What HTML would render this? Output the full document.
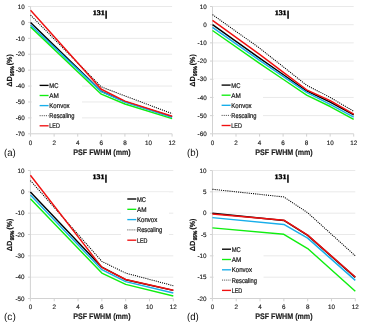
<!DOCTYPE html>
<html><head><meta charset="utf-8"><style>
html,body{margin:0;padding:0;background:#fff;}
body{width:367px;height:328px;overflow:hidden;}
svg{display:block;will-change:transform;text-rendering:geometricPrecision;}
</style></head><body>
<svg width="367" height="328" viewBox="0 0 367 328" font-family='"Liberation Sans", sans-serif'>
<rect width="367" height="328" fill="#fff"/>
<line x1="30.55" y1="6.50" x2="172.10" y2="6.50" stroke="#e9e9e9" stroke-width="1"/>
<line x1="28.05" y1="6.50" x2="30.55" y2="6.50" stroke="#d2d2d2" stroke-width="1"/>
<text x="24.75" y="8.70" font-size="6.3" text-anchor="end" fill="#222" stroke="#222" stroke-width="0.15">10</text>
<line x1="30.55" y1="22.41" x2="172.10" y2="22.41" stroke="#e9e9e9" stroke-width="1"/>
<line x1="28.05" y1="22.41" x2="30.55" y2="22.41" stroke="#d2d2d2" stroke-width="1"/>
<text x="24.75" y="24.61" font-size="6.3" text-anchor="end" fill="#222" stroke="#222" stroke-width="0.15">0</text>
<line x1="30.55" y1="38.33" x2="172.10" y2="38.33" stroke="#e9e9e9" stroke-width="1"/>
<line x1="28.05" y1="38.33" x2="30.55" y2="38.33" stroke="#d2d2d2" stroke-width="1"/>
<text x="24.75" y="40.53" font-size="6.3" text-anchor="end" fill="#222" stroke="#222" stroke-width="0.15">-10</text>
<line x1="30.55" y1="54.24" x2="172.10" y2="54.24" stroke="#e9e9e9" stroke-width="1"/>
<line x1="28.05" y1="54.24" x2="30.55" y2="54.24" stroke="#d2d2d2" stroke-width="1"/>
<text x="24.75" y="56.44" font-size="6.3" text-anchor="end" fill="#222" stroke="#222" stroke-width="0.15">-20</text>
<line x1="30.55" y1="70.15" x2="172.10" y2="70.15" stroke="#e9e9e9" stroke-width="1"/>
<line x1="28.05" y1="70.15" x2="30.55" y2="70.15" stroke="#d2d2d2" stroke-width="1"/>
<text x="24.75" y="72.35" font-size="6.3" text-anchor="end" fill="#222" stroke="#222" stroke-width="0.15">-30</text>
<line x1="30.55" y1="86.06" x2="172.10" y2="86.06" stroke="#e9e9e9" stroke-width="1"/>
<line x1="28.05" y1="86.06" x2="30.55" y2="86.06" stroke="#d2d2d2" stroke-width="1"/>
<text x="24.75" y="88.26" font-size="6.3" text-anchor="end" fill="#222" stroke="#222" stroke-width="0.15">-40</text>
<line x1="30.55" y1="101.98" x2="172.10" y2="101.98" stroke="#e9e9e9" stroke-width="1"/>
<line x1="28.05" y1="101.98" x2="30.55" y2="101.98" stroke="#d2d2d2" stroke-width="1"/>
<text x="24.75" y="104.18" font-size="6.3" text-anchor="end" fill="#222" stroke="#222" stroke-width="0.15">-50</text>
<line x1="30.55" y1="117.89" x2="172.10" y2="117.89" stroke="#e9e9e9" stroke-width="1"/>
<line x1="28.05" y1="117.89" x2="30.55" y2="117.89" stroke="#d2d2d2" stroke-width="1"/>
<text x="24.75" y="120.09" font-size="6.3" text-anchor="end" fill="#222" stroke="#222" stroke-width="0.15">-60</text>
<line x1="28.05" y1="133.80" x2="30.55" y2="133.80" stroke="#d2d2d2" stroke-width="1"/>
<text x="24.75" y="136.00" font-size="6.3" text-anchor="end" fill="#222" stroke="#222" stroke-width="0.15">-70</text>
<line x1="30.55" y1="6.50" x2="30.55" y2="133.80" stroke="#d2d2d2" stroke-width="1"/>
<line x1="30.55" y1="133.80" x2="172.10" y2="133.80" stroke="#d2d2d2" stroke-width="1"/>
<line x1="30.55" y1="133.80" x2="30.55" y2="136.60" stroke="#d2d2d2" stroke-width="1"/>
<text x="30.55" y="145.10" font-size="6.3" text-anchor="middle" fill="#222" stroke="#222" stroke-width="0.15">0</text>
<line x1="54.14" y1="133.80" x2="54.14" y2="136.60" stroke="#d2d2d2" stroke-width="1"/>
<text x="54.14" y="145.10" font-size="6.3" text-anchor="middle" fill="#222" stroke="#222" stroke-width="0.15">2</text>
<line x1="77.73" y1="133.80" x2="77.73" y2="136.60" stroke="#d2d2d2" stroke-width="1"/>
<text x="77.73" y="145.10" font-size="6.3" text-anchor="middle" fill="#222" stroke="#222" stroke-width="0.15">4</text>
<line x1="101.32" y1="133.80" x2="101.32" y2="136.60" stroke="#d2d2d2" stroke-width="1"/>
<text x="101.32" y="145.10" font-size="6.3" text-anchor="middle" fill="#222" stroke="#222" stroke-width="0.15">6</text>
<line x1="124.92" y1="133.80" x2="124.92" y2="136.60" stroke="#d2d2d2" stroke-width="1"/>
<text x="124.92" y="145.10" font-size="6.3" text-anchor="middle" fill="#222" stroke="#222" stroke-width="0.15">8</text>
<line x1="148.51" y1="133.80" x2="148.51" y2="136.60" stroke="#d2d2d2" stroke-width="1"/>
<text x="148.51" y="145.10" font-size="6.3" text-anchor="middle" fill="#222" stroke="#222" stroke-width="0.15">10</text>
<line x1="172.10" y1="133.80" x2="172.10" y2="136.60" stroke="#d2d2d2" stroke-width="1"/>
<text x="172.10" y="145.10" font-size="6.3" text-anchor="middle" fill="#222" stroke="#222" stroke-width="0.15">12</text>
<rect x="32" y="79" width="50" height="52" fill="#fff"/>
<polyline points="30.55,22.41 101.32,91.31 124.92,101.66 172.10,116.77" fill="none" stroke="#000000" stroke-width="1.45" stroke-linejoin="round"/>
<polyline points="30.55,26.87 101.32,94.18 124.92,104.04 172.10,118.68" fill="none" stroke="#10ee10" stroke-width="1.45" stroke-linejoin="round"/>
<polyline points="30.55,24.96 101.32,91.63 124.92,101.98 172.10,117.25" fill="none" stroke="#18aeea" stroke-width="1.45" stroke-linejoin="round"/>
<polyline points="30.55,15.09 101.32,86.86 124.92,95.93 172.10,113.59" fill="none" stroke="#000" stroke-width="1.05" stroke-dasharray="1.1 1.05"/>
<polyline points="30.55,10.32 101.32,89.25 124.92,101.18 172.10,116.30" fill="none" stroke="#f01010" stroke-width="1.45" stroke-linejoin="round"/>
<line x1="39.60" y1="85.40" x2="48.60" y2="85.40" stroke="#000000" stroke-width="1.35"/>
<text x="49.30" y="87.90" font-size="6.9" fill="#111" stroke="#111" stroke-width="0.2" textLength="9.1" lengthAdjust="spacingAndGlyphs">MC</text>
<line x1="39.60" y1="95.50" x2="48.60" y2="95.50" stroke="#10ee10" stroke-width="1.35"/>
<text x="49.30" y="98.00" font-size="6.9" fill="#111" stroke="#111" stroke-width="0.2" textLength="9.6" lengthAdjust="spacingAndGlyphs">AM</text>
<line x1="39.60" y1="105.60" x2="48.60" y2="105.60" stroke="#18aeea" stroke-width="1.35"/>
<text x="49.30" y="108.10" font-size="6.9" fill="#111" stroke="#111" stroke-width="0.2" textLength="20.3" lengthAdjust="spacingAndGlyphs">Konvox</text>
<line x1="39.60" y1="115.70" x2="48.60" y2="115.70" stroke="#505050" stroke-width="1" stroke-dasharray="1.1 1"/>
<text x="49.30" y="118.20" font-size="6.9" fill="#111" stroke="#111" stroke-width="0.2" textLength="25.2" lengthAdjust="spacingAndGlyphs">Rescaling</text>
<line x1="39.60" y1="125.80" x2="48.60" y2="125.80" stroke="#f01010" stroke-width="1.35"/>
<text x="49.30" y="128.30" font-size="6.9" fill="#111" stroke="#111" stroke-width="0.2" textLength="10.5" lengthAdjust="spacingAndGlyphs">LED</text>
<text x="92.75" y="15.25" font-family="Liberation Serif" font-weight="bold" font-size="7.0" stroke="#000" stroke-width="0.4" textLength="11.9" lengthAdjust="spacingAndGlyphs">131</text>
<rect x="105.35" y="10.60" width="1.5" height="8.2" fill="#000"/>
<text x="102.05" y="155.40" font-size="8.1" font-weight="bold" text-anchor="middle" textLength="57.4" lengthAdjust="spacingAndGlyphs" fill="#1a1a1a" stroke="#1a1a1a" stroke-width="0.15">PSF FWHM (mm)</text>
<g transform="translate(11.70,0) rotate(-90)"><text x="-86.85" y="0.2" font-size="7.4" font-weight="bold" fill="#111" stroke="#111" stroke-width="0.15">&#916;D</text><text x="-75.95" y="1.9" font-size="5.4" font-weight="bold" fill="#111" stroke="#111" stroke-width="0.3" textLength="9.6" lengthAdjust="spacingAndGlyphs">95%</text><text x="-65.25" y="0.15" font-size="7.4" font-weight="bold" fill="#111" stroke="#111" stroke-width="0.15" textLength="11.0" lengthAdjust="spacingAndGlyphs">(%)</text></g>
<text x="4.00" y="155.60" font-size="10.2" textLength="11.8" lengthAdjust="spacingAndGlyphs" fill="#111">(a)</text>
<line x1="212.50" y1="6.50" x2="353.70" y2="6.50" stroke="#e9e9e9" stroke-width="1"/>
<line x1="210.00" y1="6.50" x2="212.50" y2="6.50" stroke="#d2d2d2" stroke-width="1"/>
<text x="206.70" y="8.70" font-size="6.3" text-anchor="end" fill="#222" stroke="#222" stroke-width="0.15">10</text>
<line x1="212.50" y1="24.69" x2="353.70" y2="24.69" stroke="#e9e9e9" stroke-width="1"/>
<line x1="210.00" y1="24.69" x2="212.50" y2="24.69" stroke="#d2d2d2" stroke-width="1"/>
<text x="206.70" y="26.89" font-size="6.3" text-anchor="end" fill="#222" stroke="#222" stroke-width="0.15">0</text>
<line x1="212.50" y1="42.87" x2="353.70" y2="42.87" stroke="#e9e9e9" stroke-width="1"/>
<line x1="210.00" y1="42.87" x2="212.50" y2="42.87" stroke="#d2d2d2" stroke-width="1"/>
<text x="206.70" y="45.07" font-size="6.3" text-anchor="end" fill="#222" stroke="#222" stroke-width="0.15">-10</text>
<line x1="212.50" y1="61.06" x2="353.70" y2="61.06" stroke="#e9e9e9" stroke-width="1"/>
<line x1="210.00" y1="61.06" x2="212.50" y2="61.06" stroke="#d2d2d2" stroke-width="1"/>
<text x="206.70" y="63.26" font-size="6.3" text-anchor="end" fill="#222" stroke="#222" stroke-width="0.15">-20</text>
<line x1="212.50" y1="79.24" x2="353.70" y2="79.24" stroke="#e9e9e9" stroke-width="1"/>
<line x1="210.00" y1="79.24" x2="212.50" y2="79.24" stroke="#d2d2d2" stroke-width="1"/>
<text x="206.70" y="81.44" font-size="6.3" text-anchor="end" fill="#222" stroke="#222" stroke-width="0.15">-30</text>
<line x1="212.50" y1="97.43" x2="353.70" y2="97.43" stroke="#e9e9e9" stroke-width="1"/>
<line x1="210.00" y1="97.43" x2="212.50" y2="97.43" stroke="#d2d2d2" stroke-width="1"/>
<text x="206.70" y="99.63" font-size="6.3" text-anchor="end" fill="#222" stroke="#222" stroke-width="0.15">-40</text>
<line x1="212.50" y1="115.61" x2="353.70" y2="115.61" stroke="#e9e9e9" stroke-width="1"/>
<line x1="210.00" y1="115.61" x2="212.50" y2="115.61" stroke="#d2d2d2" stroke-width="1"/>
<text x="206.70" y="117.81" font-size="6.3" text-anchor="end" fill="#222" stroke="#222" stroke-width="0.15">-50</text>
<line x1="210.00" y1="133.80" x2="212.50" y2="133.80" stroke="#d2d2d2" stroke-width="1"/>
<text x="206.70" y="136.00" font-size="6.3" text-anchor="end" fill="#222" stroke="#222" stroke-width="0.15">-60</text>
<line x1="212.50" y1="6.50" x2="212.50" y2="133.80" stroke="#d2d2d2" stroke-width="1"/>
<line x1="212.50" y1="133.80" x2="353.70" y2="133.80" stroke="#d2d2d2" stroke-width="1"/>
<line x1="212.50" y1="133.80" x2="212.50" y2="136.60" stroke="#d2d2d2" stroke-width="1"/>
<text x="212.50" y="145.10" font-size="6.3" text-anchor="middle" fill="#222" stroke="#222" stroke-width="0.15">0</text>
<line x1="236.03" y1="133.80" x2="236.03" y2="136.60" stroke="#d2d2d2" stroke-width="1"/>
<text x="236.03" y="145.10" font-size="6.3" text-anchor="middle" fill="#222" stroke="#222" stroke-width="0.15">2</text>
<line x1="259.57" y1="133.80" x2="259.57" y2="136.60" stroke="#d2d2d2" stroke-width="1"/>
<text x="259.57" y="145.10" font-size="6.3" text-anchor="middle" fill="#222" stroke="#222" stroke-width="0.15">4</text>
<line x1="283.10" y1="133.80" x2="283.10" y2="136.60" stroke="#d2d2d2" stroke-width="1"/>
<text x="283.10" y="145.10" font-size="6.3" text-anchor="middle" fill="#222" stroke="#222" stroke-width="0.15">6</text>
<line x1="306.63" y1="133.80" x2="306.63" y2="136.60" stroke="#d2d2d2" stroke-width="1"/>
<text x="306.63" y="145.10" font-size="6.3" text-anchor="middle" fill="#222" stroke="#222" stroke-width="0.15">8</text>
<line x1="330.17" y1="133.80" x2="330.17" y2="136.60" stroke="#d2d2d2" stroke-width="1"/>
<text x="330.17" y="145.10" font-size="6.3" text-anchor="middle" fill="#222" stroke="#222" stroke-width="0.15">10</text>
<line x1="353.70" y1="133.80" x2="353.70" y2="136.60" stroke="#d2d2d2" stroke-width="1"/>
<text x="353.70" y="145.10" font-size="6.3" text-anchor="middle" fill="#222" stroke="#222" stroke-width="0.15">12</text>
<rect x="214" y="79" width="49" height="52" fill="#fff"/>
<polyline points="212.50,24.69 259.57,58.15 283.10,74.51 306.63,90.97 330.17,102.16 353.70,114.89" fill="none" stroke="#000000" stroke-width="1.45" stroke-linejoin="round"/>
<polyline points="212.50,30.51 259.57,63.42 283.10,79.24 306.63,95.06 330.17,106.52 353.70,119.43" fill="none" stroke="#10ee10" stroke-width="1.45" stroke-linejoin="round"/>
<polyline points="212.50,27.41 259.57,60.33 283.10,76.33 306.63,92.34 330.17,104.34 353.70,117.07" fill="none" stroke="#18aeea" stroke-width="1.45" stroke-linejoin="round"/>
<polyline points="212.50,14.59 259.57,48.15 283.10,66.69 306.63,85.24 330.17,97.43 353.70,111.25" fill="none" stroke="#000" stroke-width="1.05" stroke-dasharray="1.1 1.05"/>
<polyline points="212.50,20.41 259.57,54.33 283.10,72.06 306.63,89.79 330.17,100.70 353.70,114.16" fill="none" stroke="#f01010" stroke-width="1.45" stroke-linejoin="round"/>
<line x1="221.60" y1="85.10" x2="230.60" y2="85.10" stroke="#000000" stroke-width="1.35"/>
<text x="231.30" y="87.60" font-size="6.9" fill="#111" stroke="#111" stroke-width="0.2" textLength="9.1" lengthAdjust="spacingAndGlyphs">MC</text>
<line x1="221.60" y1="95.20" x2="230.60" y2="95.20" stroke="#10ee10" stroke-width="1.35"/>
<text x="231.30" y="97.70" font-size="6.9" fill="#111" stroke="#111" stroke-width="0.2" textLength="9.6" lengthAdjust="spacingAndGlyphs">AM</text>
<line x1="221.60" y1="105.30" x2="230.60" y2="105.30" stroke="#18aeea" stroke-width="1.35"/>
<text x="231.30" y="107.80" font-size="6.9" fill="#111" stroke="#111" stroke-width="0.2" textLength="20.3" lengthAdjust="spacingAndGlyphs">Konvox</text>
<line x1="221.60" y1="115.40" x2="230.60" y2="115.40" stroke="#505050" stroke-width="1" stroke-dasharray="1.1 1"/>
<text x="231.30" y="117.90" font-size="6.9" fill="#111" stroke="#111" stroke-width="0.2" textLength="25.2" lengthAdjust="spacingAndGlyphs">Rescaling</text>
<line x1="221.60" y1="125.50" x2="230.60" y2="125.50" stroke="#f01010" stroke-width="1.35"/>
<text x="231.30" y="128.00" font-size="6.9" fill="#111" stroke="#111" stroke-width="0.2" textLength="10.5" lengthAdjust="spacingAndGlyphs">LED</text>
<text x="274.70" y="15.25" font-family="Liberation Serif" font-weight="bold" font-size="7.0" stroke="#000" stroke-width="0.4" textLength="11.9" lengthAdjust="spacingAndGlyphs">131</text>
<rect x="287.30" y="10.60" width="1.5" height="8.2" fill="#000"/>
<text x="284.00" y="155.40" font-size="8.1" font-weight="bold" text-anchor="middle" textLength="57.4" lengthAdjust="spacingAndGlyphs" fill="#1a1a1a" stroke="#1a1a1a" stroke-width="0.15">PSF FWHM (mm)</text>
<g transform="translate(194.70,0) rotate(-90)"><text x="-86.85" y="0.2" font-size="7.4" font-weight="bold" fill="#111" stroke="#111" stroke-width="0.15">&#916;D</text><text x="-75.95" y="1.9" font-size="5.4" font-weight="bold" fill="#111" stroke="#111" stroke-width="0.3" textLength="9.6" lengthAdjust="spacingAndGlyphs">95%</text><text x="-65.25" y="0.15" font-size="7.4" font-weight="bold" fill="#111" stroke="#111" stroke-width="0.15" textLength="11.0" lengthAdjust="spacingAndGlyphs">(%)</text></g>
<text x="187.00" y="155.60" font-size="10.2" textLength="11.8" lengthAdjust="spacingAndGlyphs" fill="#111">(b)</text>
<line x1="30.40" y1="170.50" x2="173.30" y2="170.50" stroke="#e9e9e9" stroke-width="1"/>
<line x1="27.90" y1="170.50" x2="30.40" y2="170.50" stroke="#d2d2d2" stroke-width="1"/>
<text x="24.60" y="172.70" font-size="6.3" text-anchor="end" fill="#222" stroke="#222" stroke-width="0.15">10</text>
<line x1="30.40" y1="191.83" x2="173.30" y2="191.83" stroke="#e9e9e9" stroke-width="1"/>
<line x1="27.90" y1="191.83" x2="30.40" y2="191.83" stroke="#d2d2d2" stroke-width="1"/>
<text x="24.60" y="194.03" font-size="6.3" text-anchor="end" fill="#222" stroke="#222" stroke-width="0.15">0</text>
<line x1="30.40" y1="213.17" x2="173.30" y2="213.17" stroke="#e9e9e9" stroke-width="1"/>
<line x1="27.90" y1="213.17" x2="30.40" y2="213.17" stroke="#d2d2d2" stroke-width="1"/>
<text x="24.60" y="215.37" font-size="6.3" text-anchor="end" fill="#222" stroke="#222" stroke-width="0.15">-10</text>
<line x1="30.40" y1="234.50" x2="173.30" y2="234.50" stroke="#e9e9e9" stroke-width="1"/>
<line x1="27.90" y1="234.50" x2="30.40" y2="234.50" stroke="#d2d2d2" stroke-width="1"/>
<text x="24.60" y="236.70" font-size="6.3" text-anchor="end" fill="#222" stroke="#222" stroke-width="0.15">-20</text>
<line x1="30.40" y1="255.83" x2="173.30" y2="255.83" stroke="#e9e9e9" stroke-width="1"/>
<line x1="27.90" y1="255.83" x2="30.40" y2="255.83" stroke="#d2d2d2" stroke-width="1"/>
<text x="24.60" y="258.03" font-size="6.3" text-anchor="end" fill="#222" stroke="#222" stroke-width="0.15">-30</text>
<line x1="30.40" y1="277.17" x2="173.30" y2="277.17" stroke="#e9e9e9" stroke-width="1"/>
<line x1="27.90" y1="277.17" x2="30.40" y2="277.17" stroke="#d2d2d2" stroke-width="1"/>
<text x="24.60" y="279.37" font-size="6.3" text-anchor="end" fill="#222" stroke="#222" stroke-width="0.15">-40</text>
<line x1="27.90" y1="298.50" x2="30.40" y2="298.50" stroke="#d2d2d2" stroke-width="1"/>
<text x="24.60" y="300.70" font-size="6.3" text-anchor="end" fill="#222" stroke="#222" stroke-width="0.15">-50</text>
<line x1="30.40" y1="170.50" x2="30.40" y2="298.50" stroke="#d2d2d2" stroke-width="1"/>
<line x1="30.40" y1="298.50" x2="173.30" y2="298.50" stroke="#d2d2d2" stroke-width="1"/>
<line x1="30.40" y1="298.50" x2="30.40" y2="301.30" stroke="#d2d2d2" stroke-width="1"/>
<text x="30.40" y="309.10" font-size="6.3" text-anchor="middle" fill="#222" stroke="#222" stroke-width="0.15">0</text>
<line x1="54.22" y1="298.50" x2="54.22" y2="301.30" stroke="#d2d2d2" stroke-width="1"/>
<text x="54.22" y="309.10" font-size="6.3" text-anchor="middle" fill="#222" stroke="#222" stroke-width="0.15">2</text>
<line x1="78.03" y1="298.50" x2="78.03" y2="301.30" stroke="#d2d2d2" stroke-width="1"/>
<text x="78.03" y="309.10" font-size="6.3" text-anchor="middle" fill="#222" stroke="#222" stroke-width="0.15">4</text>
<line x1="101.85" y1="298.50" x2="101.85" y2="301.30" stroke="#d2d2d2" stroke-width="1"/>
<text x="101.85" y="309.10" font-size="6.3" text-anchor="middle" fill="#222" stroke="#222" stroke-width="0.15">6</text>
<line x1="125.67" y1="298.50" x2="125.67" y2="301.30" stroke="#d2d2d2" stroke-width="1"/>
<text x="125.67" y="309.10" font-size="6.3" text-anchor="middle" fill="#222" stroke="#222" stroke-width="0.15">8</text>
<line x1="149.48" y1="298.50" x2="149.48" y2="301.30" stroke="#d2d2d2" stroke-width="1"/>
<text x="149.48" y="309.10" font-size="6.3" text-anchor="middle" fill="#222" stroke="#222" stroke-width="0.15">10</text>
<line x1="173.30" y1="298.50" x2="173.30" y2="301.30" stroke="#d2d2d2" stroke-width="1"/>
<text x="173.30" y="309.10" font-size="6.3" text-anchor="middle" fill="#222" stroke="#222" stroke-width="0.15">12</text>
<rect x="121" y="192.5" width="48" height="52" fill="#fff"/>
<polyline points="30.40,192.05 101.85,267.14 125.67,279.73 173.30,290.39" fill="none" stroke="#000000" stroke-width="1.45" stroke-linejoin="round"/>
<polyline points="30.40,198.87 101.85,273.11 125.67,284.42 173.30,295.94" fill="none" stroke="#10ee10" stroke-width="1.45" stroke-linejoin="round"/>
<polyline points="30.40,195.03 101.85,269.70 125.67,281.65 173.30,292.95" fill="none" stroke="#18aeea" stroke-width="1.45" stroke-linejoin="round"/>
<polyline points="30.40,180.53 101.85,261.38 125.67,273.11 173.30,285.70" fill="none" stroke="#000" stroke-width="1.05" stroke-dasharray="1.1 1.05"/>
<polyline points="30.40,175.19 101.85,267.35 125.67,279.51 173.30,290.18" fill="none" stroke="#f01010" stroke-width="1.45" stroke-linejoin="round"/>
<line x1="127.30" y1="199.00" x2="136.30" y2="199.00" stroke="#000000" stroke-width="1.35"/>
<text x="137.00" y="201.50" font-size="6.9" fill="#111" stroke="#111" stroke-width="0.2" textLength="9.1" lengthAdjust="spacingAndGlyphs">MC</text>
<line x1="127.30" y1="209.30" x2="136.30" y2="209.30" stroke="#10ee10" stroke-width="1.35"/>
<text x="137.00" y="211.80" font-size="6.9" fill="#111" stroke="#111" stroke-width="0.2" textLength="9.6" lengthAdjust="spacingAndGlyphs">AM</text>
<line x1="127.30" y1="219.60" x2="136.30" y2="219.60" stroke="#18aeea" stroke-width="1.35"/>
<text x="137.00" y="222.10" font-size="6.9" fill="#111" stroke="#111" stroke-width="0.2" textLength="20.3" lengthAdjust="spacingAndGlyphs">Konvox</text>
<line x1="127.30" y1="229.90" x2="136.30" y2="229.90" stroke="#505050" stroke-width="1" stroke-dasharray="1.1 1"/>
<text x="137.00" y="232.40" font-size="6.9" fill="#111" stroke="#111" stroke-width="0.2" textLength="25.2" lengthAdjust="spacingAndGlyphs">Rescaling</text>
<line x1="127.30" y1="240.20" x2="136.30" y2="240.20" stroke="#f01010" stroke-width="1.35"/>
<text x="137.00" y="242.70" font-size="6.9" fill="#111" stroke="#111" stroke-width="0.2" textLength="10.5" lengthAdjust="spacingAndGlyphs">LED</text>
<text x="92.60" y="179.25" font-family="Liberation Serif" font-weight="bold" font-size="7.0" stroke="#000" stroke-width="0.4" textLength="11.9" lengthAdjust="spacingAndGlyphs">131</text>
<rect x="105.20" y="174.60" width="1.5" height="8.2" fill="#000"/>
<text x="101.90" y="319.40" font-size="8.1" font-weight="bold" text-anchor="middle" textLength="57.4" lengthAdjust="spacingAndGlyphs" fill="#1a1a1a" stroke="#1a1a1a" stroke-width="0.15">PSF FWHM (mm)</text>
<g transform="translate(11.70,0) rotate(-90)"><text x="-251.20" y="0.2" font-size="7.4" font-weight="bold" fill="#111" stroke="#111" stroke-width="0.15">&#916;D</text><text x="-240.30" y="1.9" font-size="5.4" font-weight="bold" fill="#111" stroke="#111" stroke-width="0.3" textLength="9.6" lengthAdjust="spacingAndGlyphs">95%</text><text x="-229.60" y="0.15" font-size="7.4" font-weight="bold" fill="#111" stroke="#111" stroke-width="0.15" textLength="11.0" lengthAdjust="spacingAndGlyphs">(%)</text></g>
<text x="4.00" y="319.60" font-size="10.2" textLength="11.8" lengthAdjust="spacingAndGlyphs" fill="#111">(c)</text>
<line x1="212.40" y1="170.50" x2="355.30" y2="170.50" stroke="#e9e9e9" stroke-width="1"/>
<line x1="209.90" y1="170.50" x2="212.40" y2="170.50" stroke="#d2d2d2" stroke-width="1"/>
<text x="206.60" y="172.70" font-size="6.3" text-anchor="end" fill="#222" stroke="#222" stroke-width="0.15">10</text>
<line x1="212.40" y1="191.83" x2="355.30" y2="191.83" stroke="#e9e9e9" stroke-width="1"/>
<line x1="209.90" y1="191.83" x2="212.40" y2="191.83" stroke="#d2d2d2" stroke-width="1"/>
<text x="206.60" y="194.03" font-size="6.3" text-anchor="end" fill="#222" stroke="#222" stroke-width="0.15">5</text>
<line x1="212.40" y1="213.17" x2="355.30" y2="213.17" stroke="#e9e9e9" stroke-width="1"/>
<line x1="209.90" y1="213.17" x2="212.40" y2="213.17" stroke="#d2d2d2" stroke-width="1"/>
<text x="206.60" y="215.37" font-size="6.3" text-anchor="end" fill="#222" stroke="#222" stroke-width="0.15">0</text>
<line x1="212.40" y1="234.50" x2="355.30" y2="234.50" stroke="#e9e9e9" stroke-width="1"/>
<line x1="209.90" y1="234.50" x2="212.40" y2="234.50" stroke="#d2d2d2" stroke-width="1"/>
<text x="206.60" y="236.70" font-size="6.3" text-anchor="end" fill="#222" stroke="#222" stroke-width="0.15">-5</text>
<line x1="212.40" y1="255.83" x2="355.30" y2="255.83" stroke="#e9e9e9" stroke-width="1"/>
<line x1="209.90" y1="255.83" x2="212.40" y2="255.83" stroke="#d2d2d2" stroke-width="1"/>
<text x="206.60" y="258.03" font-size="6.3" text-anchor="end" fill="#222" stroke="#222" stroke-width="0.15">-10</text>
<line x1="212.40" y1="277.17" x2="355.30" y2="277.17" stroke="#e9e9e9" stroke-width="1"/>
<line x1="209.90" y1="277.17" x2="212.40" y2="277.17" stroke="#d2d2d2" stroke-width="1"/>
<text x="206.60" y="279.37" font-size="6.3" text-anchor="end" fill="#222" stroke="#222" stroke-width="0.15">-15</text>
<line x1="209.90" y1="298.50" x2="212.40" y2="298.50" stroke="#d2d2d2" stroke-width="1"/>
<text x="206.60" y="300.70" font-size="6.3" text-anchor="end" fill="#222" stroke="#222" stroke-width="0.15">-20</text>
<line x1="212.40" y1="170.50" x2="212.40" y2="298.50" stroke="#d2d2d2" stroke-width="1"/>
<line x1="212.40" y1="298.50" x2="355.30" y2="298.50" stroke="#d2d2d2" stroke-width="1"/>
<line x1="212.40" y1="298.50" x2="212.40" y2="301.30" stroke="#d2d2d2" stroke-width="1"/>
<text x="212.40" y="309.10" font-size="6.3" text-anchor="middle" fill="#222" stroke="#222" stroke-width="0.15">0</text>
<line x1="236.22" y1="298.50" x2="236.22" y2="301.30" stroke="#d2d2d2" stroke-width="1"/>
<text x="236.22" y="309.10" font-size="6.3" text-anchor="middle" fill="#222" stroke="#222" stroke-width="0.15">2</text>
<line x1="260.03" y1="298.50" x2="260.03" y2="301.30" stroke="#d2d2d2" stroke-width="1"/>
<text x="260.03" y="309.10" font-size="6.3" text-anchor="middle" fill="#222" stroke="#222" stroke-width="0.15">4</text>
<line x1="283.85" y1="298.50" x2="283.85" y2="301.30" stroke="#d2d2d2" stroke-width="1"/>
<text x="283.85" y="309.10" font-size="6.3" text-anchor="middle" fill="#222" stroke="#222" stroke-width="0.15">6</text>
<line x1="307.67" y1="298.50" x2="307.67" y2="301.30" stroke="#d2d2d2" stroke-width="1"/>
<text x="307.67" y="309.10" font-size="6.3" text-anchor="middle" fill="#222" stroke="#222" stroke-width="0.15">8</text>
<line x1="331.48" y1="298.50" x2="331.48" y2="301.30" stroke="#d2d2d2" stroke-width="1"/>
<text x="331.48" y="309.10" font-size="6.3" text-anchor="middle" fill="#222" stroke="#222" stroke-width="0.15">10</text>
<line x1="355.30" y1="298.50" x2="355.30" y2="301.30" stroke="#d2d2d2" stroke-width="1"/>
<text x="355.30" y="309.10" font-size="6.3" text-anchor="middle" fill="#222" stroke="#222" stroke-width="0.15">12</text>
<rect x="214" y="243" width="49.5" height="52" fill="#fff"/>
<polyline points="212.40,213.17 283.85,220.42 307.67,235.35 355.30,277.38" fill="none" stroke="#000000" stroke-width="1.45" stroke-linejoin="round"/>
<polyline points="212.40,227.89 283.85,234.29 307.67,248.58 355.30,291.25" fill="none" stroke="#10ee10" stroke-width="1.45" stroke-linejoin="round"/>
<polyline points="212.40,217.65 283.85,224.47 307.67,238.13 355.30,280.37" fill="none" stroke="#18aeea" stroke-width="1.45" stroke-linejoin="round"/>
<polyline points="212.40,189.27 283.85,196.95 307.67,212.74 355.30,255.83" fill="none" stroke="#000" stroke-width="1.05" stroke-dasharray="1.1 1.05"/>
<polyline points="212.40,214.02 283.85,220.21 307.67,235.14 355.30,276.95" fill="none" stroke="#f01010" stroke-width="1.45" stroke-linejoin="round"/>
<line x1="222.00" y1="249.20" x2="231.00" y2="249.20" stroke="#000000" stroke-width="1.35"/>
<text x="231.70" y="251.70" font-size="6.9" fill="#111" stroke="#111" stroke-width="0.2" textLength="9.1" lengthAdjust="spacingAndGlyphs">MC</text>
<line x1="222.00" y1="259.50" x2="231.00" y2="259.50" stroke="#10ee10" stroke-width="1.35"/>
<text x="231.70" y="262.00" font-size="6.9" fill="#111" stroke="#111" stroke-width="0.2" textLength="9.6" lengthAdjust="spacingAndGlyphs">AM</text>
<line x1="222.00" y1="269.80" x2="231.00" y2="269.80" stroke="#18aeea" stroke-width="1.35"/>
<text x="231.70" y="272.30" font-size="6.9" fill="#111" stroke="#111" stroke-width="0.2" textLength="20.3" lengthAdjust="spacingAndGlyphs">Konvox</text>
<line x1="222.00" y1="280.10" x2="231.00" y2="280.10" stroke="#505050" stroke-width="1" stroke-dasharray="1.1 1"/>
<text x="231.70" y="282.60" font-size="6.9" fill="#111" stroke="#111" stroke-width="0.2" textLength="25.2" lengthAdjust="spacingAndGlyphs">Rescaling</text>
<line x1="222.00" y1="290.40" x2="231.00" y2="290.40" stroke="#f01010" stroke-width="1.35"/>
<text x="231.70" y="292.90" font-size="6.9" fill="#111" stroke="#111" stroke-width="0.2" textLength="10.5" lengthAdjust="spacingAndGlyphs">LED</text>
<text x="274.60" y="179.25" font-family="Liberation Serif" font-weight="bold" font-size="7.0" stroke="#000" stroke-width="0.4" textLength="11.9" lengthAdjust="spacingAndGlyphs">131</text>
<rect x="287.20" y="174.60" width="1.5" height="8.2" fill="#000"/>
<text x="283.90" y="319.40" font-size="8.1" font-weight="bold" text-anchor="middle" textLength="57.4" lengthAdjust="spacingAndGlyphs" fill="#1a1a1a" stroke="#1a1a1a" stroke-width="0.15">PSF FWHM (mm)</text>
<g transform="translate(194.70,0) rotate(-90)"><text x="-251.20" y="0.2" font-size="7.4" font-weight="bold" fill="#111" stroke="#111" stroke-width="0.15">&#916;D</text><text x="-240.30" y="1.9" font-size="5.4" font-weight="bold" fill="#111" stroke="#111" stroke-width="0.3" textLength="9.6" lengthAdjust="spacingAndGlyphs">95%</text><text x="-229.60" y="0.15" font-size="7.4" font-weight="bold" fill="#111" stroke="#111" stroke-width="0.15" textLength="11.0" lengthAdjust="spacingAndGlyphs">(%)</text></g>
<text x="187.00" y="319.60" font-size="10.2" textLength="11.8" lengthAdjust="spacingAndGlyphs" fill="#111">(d)</text>
</svg>
</body></html>
